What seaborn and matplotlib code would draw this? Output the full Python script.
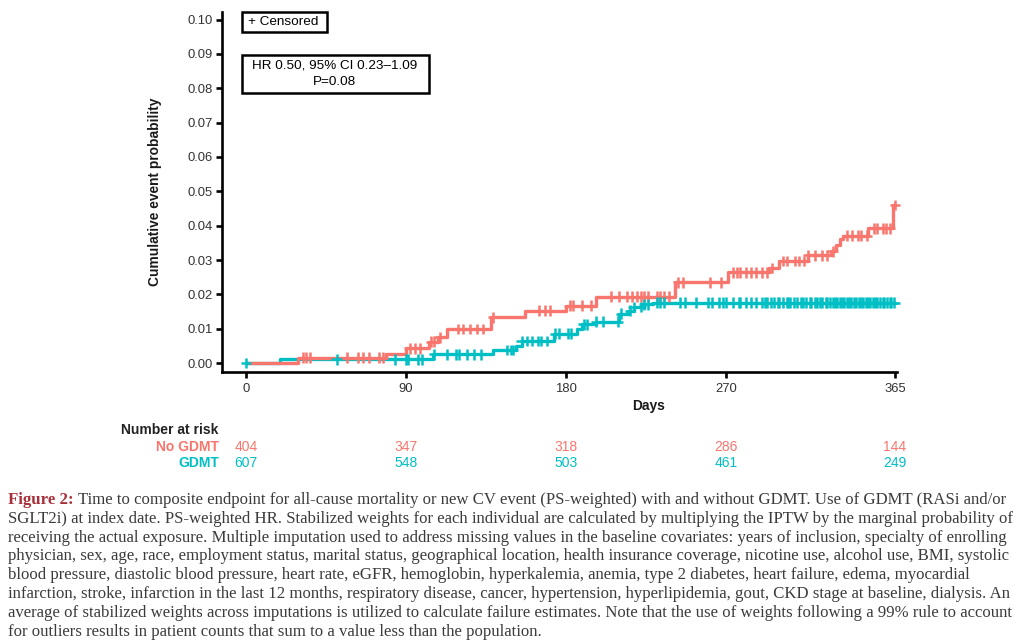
import numpy as np
import pandas as pd
import matplotlib
matplotlib.use("Agg")
import matplotlib.pyplot as plt
import matplotlib.transforms as mtransforms
from matplotlib.patches import Rectangle
import seaborn as sns

# ---------------- data ----------------
groups = ["No GDMT", "GDMT"]
colors = {"No GDMT": "#F8766D", "GDMT": "#00BFC4"}

nogdmt_days = [0, 29, 79, 90, 103, 108, 113, 138, 157, 180, 197, 241, 271, 294,
               300, 316, 329, 332, 334, 336, 350, 364, 365]
nogdmt_prob = [0.0, 0.0016, 0.0027, 0.0043, 0.0062, 0.0075, 0.0099, 0.0133, 0.0153,
               0.0167, 0.0193, 0.0235, 0.0264, 0.0277, 0.0297, 0.0314, 0.0325,
               0.0345, 0.0360, 0.0371, 0.0392, 0.0460, 0.0460]

gdmt_days = [0, 19, 105, 139, 152, 155, 173, 186, 189, 197, 210, 215, 218, 224, 229, 365]
gdmt_prob = [0.0, 0.0011, 0.0026, 0.0038, 0.0050, 0.0064, 0.0086, 0.0100, 0.0113,
             0.0121, 0.0144, 0.0153, 0.0163, 0.0171, 0.0176, 0.0176]

nogdmt_censor = [32, 34, 36, 57, 63, 66, 69, 75, 77, 92, 95, 98, 104, 106, 109, 119,
                 122, 126, 130, 133, 139, 165, 168, 171, 182, 184, 189, 194, 205, 210,
                 214, 217, 220, 222, 224, 226, 231, 233, 235, 238, 243, 246, 261, 267,
                 274, 276, 278, 281, 284, 287, 290, 293, 296, 302, 304, 309, 311, 314,
                 316, 320, 324, 327, 330, 338, 341, 344, 346, 349, 353, 355, 358, 360,
                 362, 365]
gdmt_censor = [0, 51, 84, 90, 91, 97, 99, 106, 113, 118, 120, 124, 128, 132, 147, 149,
               150, 155, 158, 161, 164, 166, 169, 174, 176, 181, 183, 190, 192, 197,
               201, 209, 211, 216, 218, 222, 224, 226, 231, 233, 235, 244, 247, 253,
               260, 262, 266, 268, 270, 274, 277, 278, 281, 284, 287, 290, 292, 293,
               295, 297, 299, 300, 302, 304, 305, 306, 308, 310, 312, 313, 315, 317,
               318, 320, 321, 323, 324, 326, 327, 328.5, 330, 331, 332.5, 334, 335,
               336.5, 338, 339, 340.5, 342, 343, 344.5, 346, 347, 348.5, 350, 351,
               352.5, 354, 355, 356.5, 358, 359, 360.5, 362, 363, 364.5]

risk_days = [0, 90, 180, 270, 365]
risk_nogdmt = [404, 347, 318, 286, 144]
risk_gdmt = [607, 548, 503, 461, 249]

x_ticks = [0, 90, 180, 270, 365]
y_ticks = [0.00, 0.01, 0.02, 0.03, 0.04, 0.05, 0.06, 0.07, 0.08, 0.09, 0.10]

hr_line1 = "HR 0.50, 95% CI 0.23\u20131.09"
hr_line2 = "P=0.08"
caption_bold = "Figure 2:"
caption_lines = [
    " Time to composite endpoint for all-cause mortality or new CV event (PS-weighted) with and without GDMT. Use of GDMT (RASi and/or",
    "SGLT2i) at index date. PS-weighted HR. Stabilized weights for each individual are calculated by multiplying the IPTW by the marginal probability of",
    "receiving the actual exposure. Multiple imputation used to address missing values in the baseline covariates: years of inclusion, specialty of enrolling",
    "physician, sex, age, race, employment status, marital status, geographical location, health insurance coverage, nicotine use, alcohol use, BMI, systolic",
    "blood pressure, diastolic blood pressure, heart rate, eGFR, hemoglobin, hyperkalemia, anemia, type 2 diabetes, heart failure, edema, myocardial",
    "infarction, stroke, infarction in the last 12 months, respiratory disease, cancer, hypertension, hyperlipidemia, gout, CKD stage at baseline, dialysis. An",
    "average of stabilized weights across imputations is utilized to calculate failure estimates. Note that the use of weights following a 99% rule to account",
    "for outliers results in patient counts that sum to a value less than the population.",
]

# ---------------- frames ----------------
curve_df = pd.concat([
    pd.DataFrame({"day": nogdmt_days, "prob": nogdmt_prob, "group": "No GDMT"}),
    pd.DataFrame({"day": gdmt_days, "prob": gdmt_prob, "group": "GDMT"}),
], ignore_index=True)


def step_value(days, probs, t):
    idx = np.searchsorted(np.asarray(days), np.asarray(t), side="right") - 1
    return np.asarray(probs)[idx]


cens_df = pd.concat([
    pd.DataFrame({"day": nogdmt_censor,
                  "prob": step_value(nogdmt_days, nogdmt_prob, nogdmt_censor),
                  "group": "No GDMT"}),
    pd.DataFrame({"day": gdmt_censor,
                  "prob": step_value(gdmt_days, gdmt_prob, gdmt_censor),
                  "group": "GDMT"}),
], ignore_index=True)

# ---------------- style ----------------
sns.set_style("ticks")
plt.rcParams["font.family"] = ["Liberation Sans", "DejaVu Sans"]

W, H = 1024, 642
fig = plt.figure(figsize=(W / 100, H / 100), dpi=100)
ax_l, ax_r, ax_t, ax_b = 222, 897, 11.7, 372
ax = fig.add_axes([ax_l / W, 1 - ax_b / H, (ax_r - ax_l) / W, (ax_b - ax_t) / H])

sns.lineplot(data=curve_df, x="day", y="prob", hue="group", hue_order=["GDMT", "No GDMT"],
             palette=colors, estimator=None, sort=False, drawstyle="steps-post",
             linewidth=2.4, legend=False, ax=ax)
sns.scatterplot(data=cens_df, x="day", y="prob", hue="group", hue_order=["No GDMT", "GDMT"],
                palette=colors, marker="+", s=60, linewidth=1.8, legend=False,
                ax=ax, clip_on=False, zorder=3)

ax.set_xlim(-13.5, 366.1)
ax.set_ylim(-0.0026, 0.1023)
ax.set_xticks(x_ticks)
ax.set_xticklabels([str(v) for v in x_ticks])
ax.set_yticks(y_ticks)
ax.set_yticklabels([f"{v:.2f}" for v in y_ticks])
for s in ["top", "right"]:
    ax.spines[s].set_visible(False)
for s in ["left", "bottom"]:
    ax.spines[s].set_linewidth(1.9)
    ax.spines[s].set_color("black")
ax.tick_params(axis="both", length=4, width=1.9, color="black", labelcolor="#333333",
               labelsize=9.4)
ax.tick_params(axis="x", pad=4)
ax.tick_params(axis="y", pad=2.5)

ax.set_xlabel("")
ax.set_ylabel("Cumulative event probability", fontsize=9.9, fontweight="bold", color="#1a1a1a")
ax.yaxis.set_label_coords(-(ax_l - 162) / (ax_r - ax_l), 0.5)

fig.text(649 / W, 1 - 406 / H, "Days", ha="center", va="center", fontsize=9.9,
         fontweight="bold", color="#1a1a1a")

# boxes
def px_box(x0, y0, x1, y1):
    return Rectangle((x0 / W, 1 - y1 / H), (x1 - x0) / W, (y1 - y0) / H,
                     transform=fig.transFigure, facecolor="white", edgecolor="black",
                     linewidth=1.8, zorder=5)

fig.patches.append(px_box(242, 12, 327, 32))
fig.text(248 / W, 1 - 22 / H, "+ Censored", ha="left", va="center", fontsize=9.7,
         color="black", zorder=6)
fig.patches.append(px_box(242, 55, 429, 93))
fig.text(335 / W, 1 - 66 / H, hr_line1, ha="center", va="center", fontsize=9.7,
         color="black", zorder=6)
fig.text(335 / W, 1 - 82 / H, hr_line2, ha="center", va="center", fontsize=9.7,
         color="black", zorder=6)

# risk table
trans = mtransforms.blended_transform_factory(ax.transData, fig.transFigure)
fig.text(121 / W, 1 - 430 / H, "Number at risk", ha="left", va="center", fontsize=10,
         fontweight="bold", color="#222222")
rows = [("No GDMT", risk_nogdmt, 447), ("GDMT", risk_gdmt, 463)]
for name, vals, py in rows:
    fig.text(219 / W, 1 - py / H, name, ha="right", va="center", fontsize=10,
             fontweight="bold", color=colors[name])
    for d, v in zip(risk_days, vals):
        ax.text(d, 1 - py / H, str(v), transform=trans, ha="center", va="center",
                fontsize=10, color=colors[name], clip_on=False)

# caption
renderer = fig.canvas.get_renderer()
cap_family = ["Liberation Serif", "DejaVu Serif"]
fs = 10.5
probe = fig.text(0, 0, caption_lines[6], fontsize=fs, family=cap_family)
wpx = probe.get_window_extent(renderer).width
probe.remove()
fs = fs * 998 / wpx

cap_x0 = 8
cap_y0 = 500
cap_dy = 18.8
tb = fig.text(cap_x0 / W, 1 - cap_y0 / H, caption_bold, ha="left", va="center",
              fontsize=fs, family=cap_family, fontweight="bold", color="#A8303A")
wb = tb.get_window_extent(renderer).width
for i, line in enumerate(caption_lines):
    x = cap_x0 + (wb if i == 0 else 0)
    fig.text(x / W, 1 - (cap_y0 + i * cap_dy) / H, line, ha="left", va="center",
             fontsize=fs, family=cap_family, color="#3b3b3b")

fig.savefig("out.png", dpi=100)
